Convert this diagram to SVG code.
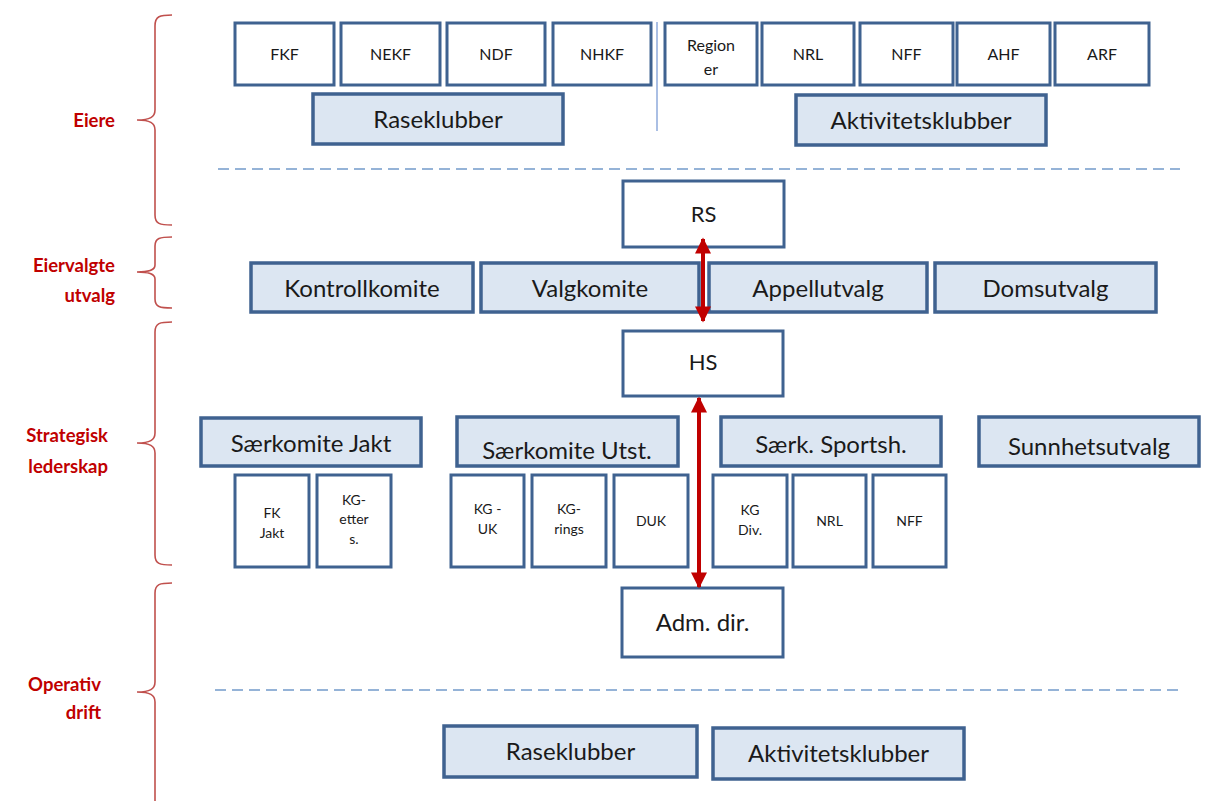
<svg xmlns="http://www.w3.org/2000/svg" width="1209" height="801" viewBox="0 0 1209 801">
<style>
.b{fill:#ffffff;stroke:#3f6290;stroke-width:3}
.f{fill:#dce6f2;stroke:#3f6290;stroke-width:3.5}
.t{font-family:Lato,"Liberation Sans",sans-serif;fill:#1a1a1a;text-anchor:middle}
.s{font-size:16px}
.xs{font-size:14px}
.l{font-size:24px}
.m{font-size:22px}
.r{font-family:Lato,"Liberation Sans",sans-serif;font-weight:bold;font-size:18.5px;fill:#c00000;text-anchor:end}
.br{fill:none;stroke:#c0504d;stroke-width:1.6}
.d{stroke:#95b3d7;stroke-width:2;stroke-dasharray:11,6;fill:none}
.a{stroke:#c00000;stroke-width:4;fill:none}
</style>
<defs>
<marker id="ah" viewBox="0 0 10 10" refX="9" refY="5" markerWidth="4.3" markerHeight="4" orient="auto-start-reverse" markerUnits="strokeWidth">
<path d="M0,0L10,5L0,10z" fill="#c00000"/>
</marker>
<clipPath id="c1"><rect x="456" y="416" width="222" height="46"/></clipPath>
<clipPath id="c2"><rect x="978" y="416" width="221" height="46"/></clipPath>
</defs>
<rect width="1209" height="801" fill="#ffffff"/>
<g id="braces">
<path class="br" d="M172,15 C160,15 155,16 155,26 L155,110 C155,117 150,120 137,120 C150,120 155,123 155,130 L155,215 C155,224 160,225 172,225"/>
<path class="br" d="M172,237 C160,237 155,238 155,246 L155,265 C155,270 150,272 137,272 C150,272 155,274 155,279 L155,299 C155,307 160,308 172,308"/>
<path class="br" d="M172,322 C160,322 155,323 155,332 L155,433 C155,440 150,443 137,443 C150,443 155,446 155,453 L155,555 C155,564 160,565 172,565"/>
<path class="br" d="M172,583 C160,583 155,584 155,593 L155,682 C155,689 150,692 137,692 C150,692 155,695 155,702 L155,801"/>
</g>
<g id="labels">
<text class="r" x="115" y="127">Eiere</text>
<text class="r" x="115" y="272">Eiervalgte</text>
<text class="r" x="115" y="302">utvalg</text>
<text class="r" x="108" y="442">Strategisk</text>
<text class="r" x="108" y="473">lederskap</text>
<text class="r" x="101" y="691">Operativ</text>
<text class="r" x="101" y="719">drift</text>
</g>
<g id="dividers">
<line class="d" x1="218" y1="169" x2="1180" y2="169"/>
<line class="d" x1="215" y1="690" x2="1180" y2="690"/>
<line x1="657" y1="22" x2="657" y2="131" stroke="#8eaadb" stroke-width="1.5"/>
</g>
<g id="n-fkf"><rect class="b" x="235" y="23" width="99" height="62"/><text class="t s" x="284.5" y="60">FKF</text></g>
<g id="n-nekf"><rect class="b" x="341" y="23" width="99" height="62"/><text class="t s" x="390.5" y="60">NEKF</text></g>
<g id="n-ndf"><rect class="b" x="447" y="23" width="98" height="62"/><text class="t s" x="496" y="60">NDF</text></g>
<g id="n-nhkf"><rect class="b" x="553" y="23" width="98" height="62"/><text class="t s" x="602" y="60">NHKF</text></g>
<g id="n-region"><rect class="b" x="665" y="23" width="92" height="62"/><text class="t s" x="711" y="51">Region</text><text class="t s" x="711" y="75">er</text></g>
<g id="n-nrl"><rect class="b" x="762" y="23" width="92" height="62"/><text class="t s" x="808" y="60">NRL</text></g>
<g id="n-nff"><rect class="b" x="860" y="23" width="93" height="62"/><text class="t s" x="906.5" y="60">NFF</text></g>
<g id="n-ahf"><rect class="b" x="957" y="23" width="93" height="62"/><text class="t s" x="1003.5" y="60">AHF</text></g>
<g id="n-arf"><rect class="b" x="1055" y="23" width="94" height="62"/><text class="t s" x="1102" y="60">ARF</text></g>
<g id="n-raseklubber1"><rect class="f" x="313" y="94" width="250" height="50"/><text class="t l" x="438" y="128">Raseklubber</text></g>
<g id="n-aktivitetsklubber1"><rect class="f" x="796" y="95" width="250" height="50"/><text class="t l" x="921" y="129">Aktivitetsklubber</text></g>
<g id="n-rs"><rect class="b" x="623" y="181" width="161" height="66"/><text class="t m" x="703.5" y="222">RS</text></g>
<g id="n-kontrollkomite"><rect class="f" x="251" y="263" width="222" height="49"/><text class="t l" x="362" y="297">Kontrollkomite</text></g>
<g id="n-valgkomite"><rect class="f" x="481" y="263" width="218" height="49"/><text class="t l" x="590" y="297">Valgkomite</text></g>
<g id="n-appellutvalg"><rect class="f" x="709" y="263" width="218" height="49"/><text class="t l" x="818" y="297">Appellutvalg</text></g>
<g id="n-domsutvalg"><rect class="f" x="935" y="263" width="221" height="49"/><text class="t l" x="1045.5" y="297">Domsutvalg</text></g>
<g id="n-hs"><rect class="b" x="623" y="331" width="160" height="65"/><text class="t m" x="703" y="370">HS</text></g>
<g id="n-saerkomite-jakt"><rect class="f" x="201" y="418" width="220" height="48"/><text class="t l" x="311" y="452">Særkomite Jakt</text></g>
<g id="n-saerkomite-utst"><rect class="f" x="457" y="417" width="221" height="49"/><text class="t l" x="567" y="459" clip-path="url(#c1)">Særkomite Utst.</text></g>
<g id="n-saerk-sportsh"><rect class="f" x="721" y="417" width="220" height="49"/><text class="t l" x="831" y="453">Særk. Sportsh.</text></g>
<g id="n-sunnhetsutvalg"><rect class="f" x="979" y="417" width="220" height="49"/><text class="t l" x="1089" y="455" clip-path="url(#c2)">Sunnhetsutvalg</text></g>
<g id="n-fk-jakt"><rect class="b" x="235" y="475" width="74" height="92"/><text class="t xs" x="272" y="518">FK</text><text class="t xs" x="272" y="538">Jakt</text></g>
<g id="n-kg-etters"><rect class="b" x="317" y="475" width="74" height="92"/><text class="t xs" x="354" y="505">KG-</text><text class="t xs" x="354" y="524">etter</text><text class="t xs" x="354" y="544">s.</text></g>
<g id="n-kg-uk"><rect class="b" x="451" y="475" width="73" height="92"/><text class="t xs" x="487.5" y="514">KG -</text><text class="t xs" x="487.5" y="534">UK</text></g>
<g id="n-kg-rings"><rect class="b" x="532" y="475" width="74" height="92"/><text class="t xs" x="569" y="514">KG-</text><text class="t xs" x="569" y="534">rings</text></g>
<g id="n-duk"><rect class="b" x="614" y="475" width="74" height="92"/><text class="t xs" x="651" y="526">DUK</text></g>
<g id="n-kg-div"><rect class="b" x="713" y="475" width="74" height="92"/><text class="t xs" x="750" y="515">KG</text><text class="t xs" x="750" y="535">Div.</text></g>
<g id="n-nrl2"><rect class="b" x="793" y="475" width="73" height="92"/><text class="t xs" x="829.5" y="526">NRL</text></g>
<g id="n-nff2"><rect class="b" x="873" y="475" width="73" height="92"/><text class="t xs" x="909.5" y="526">NFF</text></g>
<g id="n-adm-dir"><rect class="b" x="622" y="588" width="161" height="69"/><text class="t" style="font-size:24px" x="702.5" y="631">Adm. dir.</text></g>
<g id="n-raseklubber2"><rect class="f" x="444" y="726" width="253" height="51"/><text class="t l" x="570.5" y="760">Raseklubber</text></g>
<g id="n-aktivitetsklubber2"><rect class="f" x="713" y="728" width="251" height="51"/><text class="t l" x="838.5" y="762">Aktivitetsklubber</text></g>
<g id="connectors">
<line class="a" x1="703" y1="239" x2="703" y2="321" marker-start="url(#ah)" marker-end="url(#ah)"/>
<line class="a" x1="699" y1="398" x2="699" y2="587" marker-start="url(#ah)" marker-end="url(#ah)"/>
</g>
</svg>
